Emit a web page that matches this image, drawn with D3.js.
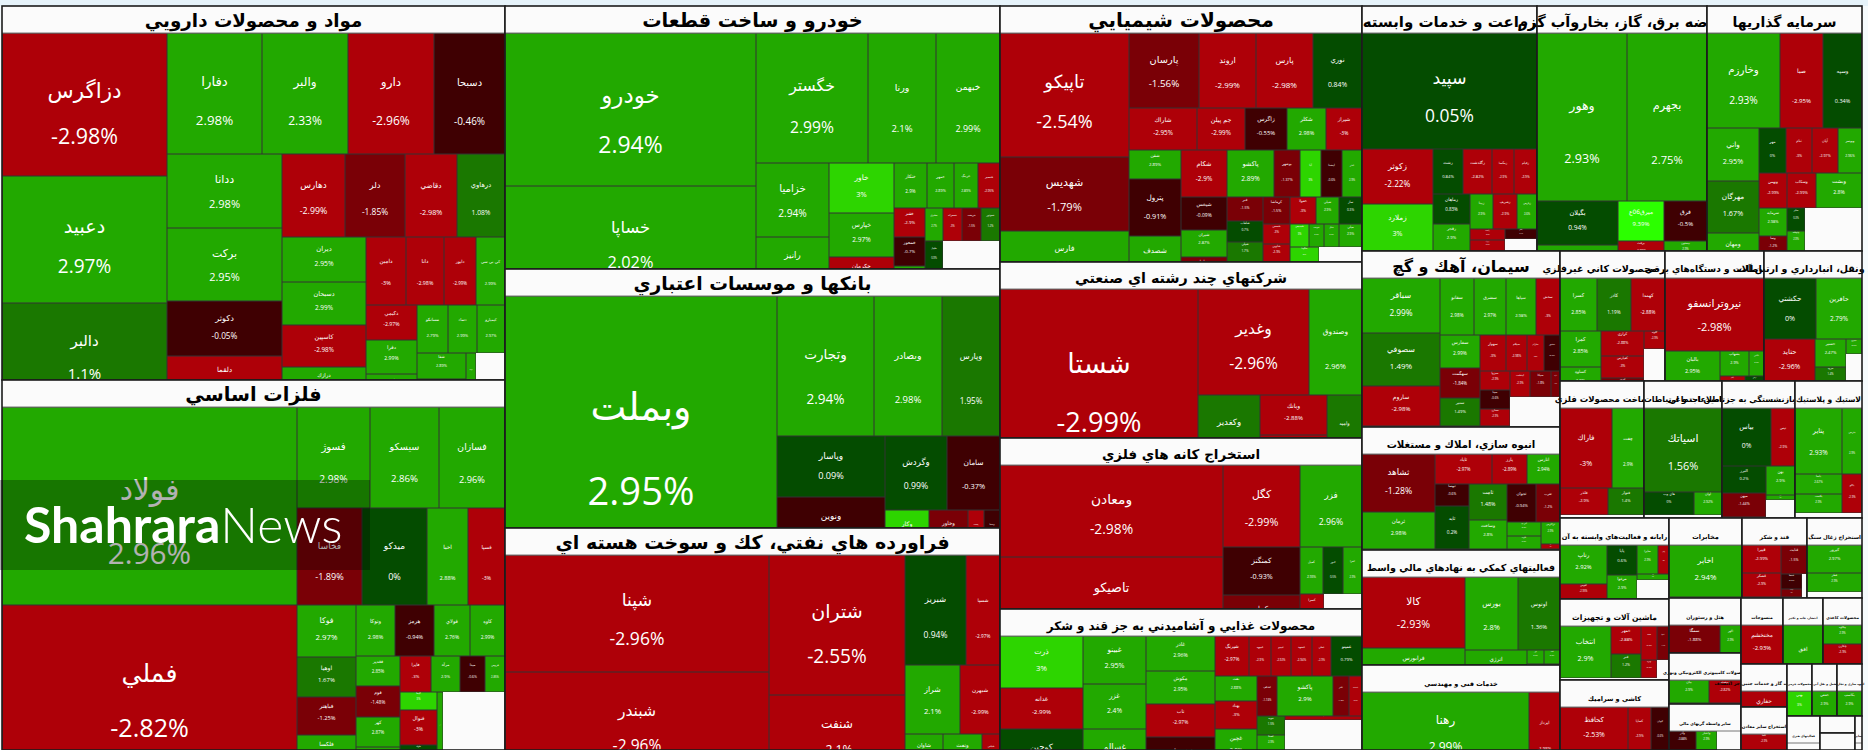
<!DOCTYPE html>
<html>
<head>
<meta charset="utf-8">
<script src="https://cdn.jsdelivr.net/npm/d3@7"></script>
<style>
    html, body { margin: 0; padding: 0; background: #f6fbfd; overflow: hidden; }
    svg { display: block; }
    text { text-anchor: middle; }
</style>
</head>
<body>
<div id="market-map"></div>
<script>
/* ----------------------------------------------------- Data -------------------------------------------------------------------------- */

const sectorNames = [
    "مواد و محصولات دارويي", "فلزات اساسي",
    "خودرو و ساخت قطعات", "بانكها و موسسات اعتباري", "فراورده هاي نفتي، كك و سوخت هسته اي",
    "محصولات شيميايي", "شركتهاي چند رشته اي صنعتي", "استخراج كانه هاي فلزي", "محصولات غذايي و آشاميدني به جز قند و شكر",
    "زراعت و خدمات وابسته", "عرضه برق، گاز، بخاروآب گرم", "سرمايه گذاريها",
    "سيمان، آهك و گچ", "انبوه سازي، املاك و مستغلات", "فعاليتهاي كمكي به نهادهاي مالي واسط", "خدمات فني و مهندسي",
    "ساير محصولات كاني غيرفلزي", "ماشين آلات و دستگاه‌هاي برقي", "حمل ونقل، انبارداري و ارتباطات",
    "ساخت محصولات فلزي", "اطلاعات و ارتباطات", "بيمه وصندوق بازنشستگي به جزتامين اجتماعي", "لاستيك و پلاستيك",
    "رايانه و فعاليت‌هاي وابسته به آن", "ماشين آلات و تجهيزات", "كاشي و سراميك",
    "مخابرات", "قند و شكر", "استخراج زغال سنگ",
    "هتل و رستوران", "محصولات كامپيوتري الكترونيكي ونوري", "ساير واسطه گريهاي مالي",
    "منسوجات", "انتشار، چاپ و تكثير", "محصولات كاغذي",
    "استخراج نفت گاز و خدمات جنبي جز اكتشاف", "استخراج ساير معادن",
    "محصولات چرمي", "حمل و نقل آبي", "انبوه سازي و تجارت",
    "فعاليتهاي هنري", "خرده فروشي", "عمده فروشي", "ساير"
];

const sectorValues = [
    188400, 185900,
    130400, 127700, 110100,
    92700, 63700, 61900, 51000,
    42800, 41600, 37900,
    34800, 24200, 22700, 16800,
    13650, 12850, 12750,
    11530, 10680, 9990, 9160,
    8900, 8800, 7600,
    5880, 5170, 4400,
    4030, 3670, 3380,
    2790, 2660, 2590,
    1950, 1950,
    1300, 1300, 1300,
    1100, 590, 590, 240
];

const titleSizes = [
    18.3, 19.3, 19.3, 18.7, 19, 20, 14.3, 13.5, 11.9, 15, 14.5, 14, 16, 10.2, 9.6, 6.5,
    9.5, 9, 9.5, 8.5, 8, 8, 7.5, 6.6, 7.6, 6.5, 6.5, 5.7, 5.4, 4.9, 4.4, 4,
    4.5, 3, 4, 4.5, 4.4, 3, 3, 3, 3, 3, 3, 3
];

/* A few sectors turn their rows earlier than plain squarify does */
const tileBias = { 5: 1.32, 9: 1.2, 13: 1.32, 17: 1.3 };

const tickerNames = [
    ["دزاگرس", "دعبيد", "دالبر", "دفارا", "والبر", "دارو", "دسبحا", "ددانا", "بركت", "دكوثر", "دلقما",
     "دهارس", "دلر", "دقاضي", "درهاوي", "ديران", "دسبحان", "كاسپين", "درازك", "دامين", "دانا", "دابور", "كي بي سي",
     "دكيمي", "دفرا", "دشيمي", "مسانكو", "دتماد", "كيميارو", "شفا", "دتولي", "تيپيكو", ""],
    ["فولاد", "فملي", "فسوژ", "سيسكو", "فسازان", "فخاسا", "ميدكو", "اخيا", "فسپا",
     "فوكا", "اوهيا", "فباهنر", "فلكسا", "ونوكا", "هرمز", "فولاي", "كاوه", "فغدير", "فوم", "كهر",
     "فجر", "فايرا", "مرآه", "ميدا", "فروس", "كيما", "فنوال", "فلوله", "فسرب", "فزر", ""],
    ["خودرو", "خساپا", "خگستر", "ورنا", "خبهمن", "خزاميا", "رانيز", "خاور", "خپارس", "خكرمان",
     "ختكار", "خمهر", "خرينگ", "خنصير", "خفنر", "خمحور", "خكار", "خشرق", "خمحركه", "خريخت", "خموتور", "خليبل", "خپويش", ""],
    ["وبملت", "وتجارت", "وبصادر", "وپارس", "وپاسار", "ونوين", "وگردش", "سامان", "وكار", "وخاور", "پست", "وسينا"],
    ["شپنا", "شبندر", "شتران", "شنفت", "شبريز", "شسپا", "شراز", "شبهرن", "شاوان", "ونفت", "شپاس"],
    ["تاپيكو", "شهديس", "فارس", "پارسان", "اروند", "پارس", "نوري", "شاراك", "جم پيلن", "زاگرس", "شكلر", "شيراز", "شفن",
     "پترول", "شصدف", "شكام", "شيخس", "شيران", "ساينا", "پاكشو", "بوشهر", "آپا", "ايشدا", "غدر", "فنر",
     "شلعاب", "شپلي", "شفته", "كرماشا", "خفولا", "شيلي", "ساز", "شمس", "شاوين",
     "شفارس", "شپديس", "شوينده", "شگل", "ميلي", "شگويا", "شرنگي", "شغدير", ""],
    ["شستا", "وغدير", "وصندوق", "وكغدير", "وبانك", "وسنا", "واميد"],
    ["ومعادن", "تاصيكو", "كگل", "فزر", "كمنگنز", "كچاد", "كميل", "كنور", "كفرا", "كسرا", "سمن", ""],
    ["ذرت", "غدانه", "كوچين", "غبينو", "غزر", "غسالم", "غاذر", "مكوش", "ناب", "غشهداب",
     "شيرنگ", "غبيوه", "غپينو", "غشهد", "غملي", "غمينو", "نفت", "بهناد", "غچين",
     "غفارس", "اشكف", "پاكشو", "غلبر", "غدشت", "خوبه", "غسنا", "لبني", "غكورش", "قند", ""],
    ["سپيد", "زكوثر", "زملارد", "زشت", "زگلدشت", "زمگسا", "زقيام", "زماهان", "زفجر",
     "زبينا", "زشريف", "زپارس", "زكشت", "زبرك", "زنگان", ""],
    ["وهور", "بجهرم", "بگيلان", "برق", "ميرق06ع", "برفت", "بمپنا", "فرق", "بيستون", ""],
    ["وخارزم", "صبا", "وسپه", "واني", "مهرگان", "ومهان", "مهر", "ثنام", "آپان", "وبوسر",
     "وبهمن", "سرمايه", "وسا", "سپر", "وسكاب", "وبشت", "سابر", "وتوشه", "كي", ""],
    ["سباقر", "سصوفي", "ساروم", "سفانو", "سشرق", "سپاها", "سخش", "سفارس", "سهگمت", "سنير",
     "سهواز", "سيلام", "سارام", "سخوز", "سبزوا", "سينا", "سمازن", "ايدشت", "سيكا", "سآبيك", ""],
    ["ثشاهد", "ثرمان", "ثاباد", "پارز", "انارس", "ثبهسا", "ثابد", "ثامت", "وساخت", "ثجوان", "ثغرب", "آس پ", "ثالوند", "ثزاگرس", "ثاخت"],
    ["كالا", "فرابورس", "بورس", "اوتوس", "انرژي", "نور", "ثبت", ""],
    ["رهنا", "اپرداز"],
    ["كسرا", "كاذر", "كهمدا", "كمرا", "كساوه", "كرازي", "كفپارس", "كپرور", "كلوند", ""],
    ["نيروترانسفو", "بالبان", "بشهاب", "بالاس", "بكام", "برقي"],
    ["حكشتي", "حافرين", "حتايد", "حسير", "حرود", "حپترو", ""],
    ["فاراك", "چفت", "فلذر", "فنوار"],
    ["اسياتك", "هاي وب", "اوان"],
    ["بياس", "تپس", "البرز", "ميهن", "بهن", "سافي", ""],
    ["پتاير", "پدرس", "پاسا", "پلاست", "پاكو"],
    ["رتاپ", "افوس", "پايا", "مرغوا", "سايرا", "پايتن", "سپ", ""],
    ["انتخاب", "خمهر", "فنر", "صند", "اسپا", "وبرد", ""],
    ["كحافظ", "كساپا", "كيوان"],
    ["اخابر"],
    ["قپيرا", "قشكر", "قثابت", "قنيشا", "قهكمت", ""],
    ["كپرور", "قطر"],
    ["سمگا", "اگهر"],
    ["بيان", "سيستم"],
    ["وآذر", "واعتبار", ""],
    ["مختخشم"],
    ["افق"],
    ["چكاوه", "چكارن"],
    ["حفاري"],
    ["كاما"],
    ["بهني"],
    ["خفقي"],
    ["بكاسپ"],
    [], [], [], []
];

const tickerChanges = [
    [-2.98, 2.97, 1.1, 2.98, 2.33, -2.96, -0.46, 2.98, 2.95, -0.05, -2.96,
     -2.99, -1.85, -2.98, 1.08, 2.95, 2.99, -2.98, 2.9, -3, -2.98, -2.99, 2.99,
     -2.97, 2.99, 2.9, 2.79, 2.99, 2.97, 2.89, 2.9, 2.9, null],
    [2.96, -2.82, 2.98, 2.86, 2.96, -1.89, 0, 2.88, -3,
     2.97, 1.67, -1.25, 2.9, 2.98, -0.94, 2.76, 2.99, 2.85, -1.48, 2.87,
     2.9, -3, 2.9, -0.6, 2.85, 3, -3, 0, -1.2, 2.5, null],
    [2.94, 2.02, 2.99, 2.1, 2.99, 2.94, 2.9, 3, 2.97, -2.9,
     2.9, 2.89, 2.89, -2.95, -2.9, -0.7, 2.9, 2.7, -3, -1.5, 1.2, 0.9, 0.8, null],
    [2.95, 2.94, 2.98, 1.95, 0.09, -0.5, 0.99, -0.37, 3, -1.9, -2.9, -0.5],
    [-2.96, -2.96, -2.55, -2.1, 0.94, -2.97, 2.1, -2.99, 2.9, 2.9, -2.9],
    [-2.54, -1.79, 2.9, -1.56, -2.99, -2.98, 0.84, -2.95, -2.99, -0.55, 2.98, -3, 2.89,
     -0.91, 2.98, -2.9, -0.09, 2.87, -1.28, 2.89, -1.37, 3, -0.6, 2.9, -1.5,
     0.7, 1.7, -1.28, -1.5, -3, 2.9, 0.3, -3, -2.9,
     2.98, 3, 2.9, 2.9, 2.9, 3, -1.9, 2.9, null],
    [-2.99, -2.96, 2.96, 1.5, -2.88, -2.7, 1.71],
    [-2.98, -2.98, -2.99, 2.96, -0.93, -1.5, 2.93, 0.5, 2.9, -2.98, -2.9, null],
    [3, -2.99, 0.6, 2.95, 2.4, 2.9, 2.96, 2.95, -2.97, -0.8,
     -2.97, -2.9, -2.92, -2.94, -2.9, 0.79, 2.88, -3, 2.9,
     -1.99, -1.74, 2.9, -1.8, -2.9, 1.5, 2.9, 2.9, -2.9, -2.9, null],
    [0.05, -2.22, 3, 0.84, -2.82, -2.9, -2.9, 0.83, 2.9,
     2.9, -2.9, 2.6, -2.9, -2.9, -0.4, null],
    [2.93, 2.75, 0.94, 2.9, 9.39, -2.98, 2.9, -0.5, 2.9, null],
    [2.93, -2.95, 0.34, 2.95, 1.67, 2.9, 0, -3, -2.97, 2.96,
     -2.99, 2.98, -1.2, -3, -2.99, 2.8, 0.3, 2.9, 1.4, null],
    [2.99, 1.49, -2.98, 2.98, 2.97, 2.98, -3, 2.99, -1.84, 1.49,
     -3, -2.98, -3, -0.7, -2.9, -0.6, -2.9, -2.9, -1.8, -1.5, null],
    [-1.28, 2.98, -2.97, -2.89, 2.94, -0.6, 0.2, 1.48, 2.8, -0.94, -1.2, 2.9, 2.5, 2.9, -2.9],
    [-2.93, 2.9, 2.8, 1.36, 2.9, 2.9, 2.9, null],
    [2.99, -2.98],
    [2.85, 1.19, -2.88, 2.85, 2.9, -2.88, -3, -1.4, -2.9, null],
    [-2.98, 2.95, 2.9, 2.9, -2.9, 0.5],
    [0, 2.79, -2.96, 2.47, 1.4, 2.9, null],
    [-3, 2.9, -2.9, 1.4],
    [1.56, 0, 2.92],
    [0, -2.9, 0.2, -1.44, 2.9, 2.9, null],
    [2.93, 2.9, 2.67, 2.9, -2.9],
    [2.92, -2.95, 0.6, 2.9, 2.9, -3, 2.9, null],
    [2.9, -2.88, 1.2, -2.9, -1.4, -2.9, null],
    [-2.53, -2.9, -0.6],
    [2.94],
    [-2.99, -2.9, -1.5, -0.6, -2, null],
    [2.97, 2.9],
    [-1.88, 2.9],
    [2.9, -2.82],
    [-0.88, 2.9, null],
    [-2.93],
    [2.9],
    [2.9, -2.9],
    [-2.9],
    [-2.9],
    [3],
    [2.9],
    [2.9],
    [], [], [], []
];

const tickerValues = [
    [23600, 20955, 16500, 11500, 10400, 10400, 8600, 8500, 8400, 6400, 5400,
     5150, 5000, 4300, 3950, 3800, 3550, 3500, 3000, 2800, 2550, 2200, 2000,
     1800, 1750, 1500, 1480, 1390, 1340, 1250, 1200, 480, 1465],
    [58400, 49600, 7370, 6970, 6670, 6300, 6200, 3980, 3590,
     3070, 2360, 2240, 2240, 2030, 1980, 1870, 1820, 1330, 1380, 1330,
     1150, 1100, 1025, 900, 700, 665, 1260, 520, 500, 500, 5060],
    [38250, 27500, 14560, 8840, 8320, 5400, 4300, 3250, 2860, 2535,
     1520, 1200, 1100, 1010, 910, 910, 910, 600, 620, 640, 620, 560, 400, 3085],
    [70700, 13440, 9520, 8120, 6590, 6370, 4590, 3920, 2020, 1750, 740, 740],
    [30770, 27600, 19040, 11150, 6710, 3740, 3800, 2760, 1630, 1630, 770],
    [16000, 9680, 6970, 5175, 4275, 4200, 3675, 2900, 2050, 1800, 1650, 1550, 1500,
     2890, 2540, 2120, 1520, 1270, 1270, 2200, 1200, 1000, 960, 920, 880,
     770, 780, 800, 730, 700, 600, 630, 560, 530,
     560, 460, 360, 340, 560, 460, 330, 310, 1625],
    [35700, 11770, 5600, 4650, 2680, 2345, 2625],
    [20420, 18870, 6314, 5084, 3700, 3620, 1080, 940, 890, 770, 410, 1800],
    [4320, 3400, 4730, 3020, 2835, 3590, 2380, 2240, 2240, 3330,
     1376, 864, 800, 832, 736, 1250, 1075, 1160, 1585,
     790, 825, 2280, 650, 510, 540, 510, 480, 450, 320, 5017],
    [20300, 3960, 3380, 1340, 1290, 1010, 1010, 1100, 1000,
     815, 850, 700, 400, 400, 330, 405],
    [15040, 13520, 3600, 2640, 1850, 1000, 700, 1710, 830, 760],
    [7000, 4030, 3750, 2760, 2700, 2080, 1215, 1170, 1170, 1080,
     980, 780, 620, 420, 1000, 1590, 420, 375, 375, 3654],
    [4290, 4210, 3120, 1910, 1860, 1680, 1390, 1280, 1200, 1120,
     940, 720, 610, 580, 590, 560, 530, 500, 550, 240, 1473],
    [4250, 2660, 1690, 1050, 970, 760, 1490, 1390, 1107, 1107, 900, 500, 430, 420, 100],
    [7310, 4120, 3800, 3070, 2320, 240, 220, 790],
    [13280, 2480],
    [1950, 1840, 1780, 1470, 1150, 1070, 950, 750, 370, 950],
    [7230, 2000, 700, 375, 290, 230],
    [3160, 2850, 2340, 860, 540, 240, 500],
    [4180, 2540, 1270, 970],
    [6550, 1180, 650],
    [2830, 1420, 1160, 1075, 820, 160, 490],
    [3080, 1320, 950, 900, 780],
    [1810, 785, 900, 780, 615, 320, 200, 640],
    [2650, 810, 700, 555, 400, 290, 210],
    [3150, 1030, 850],
    [3820],
    [1100, 920, 750, 330, 170, 120],
    [1550, 1050],
    [1500, 600],
    [940, 750],
    [520, 400, 450],
    [1680],
    [2720],
    [760, 760],
    [1800],
    [765],
    [676],
    [650],
    [650],
    [], [], [], []
];

/* ----------------------------------------------------- Layout constants ------------------------------------------------------------ */

const width = 1868;
const height = 750;
const margin = { top: 6, right: 6, bottom: 0, left: 2 };
const headerHeight = 27;
const goldenRatio = (1 + Math.sqrt(5)) / 2;

const changeColor = d3.scaleThreshold()
    .domain([-2, -1, 0, 1, 2, 3, 4])
    .range(["#ae0008", "#7a0006", "#3f0002", "#044c00", "#1a7800", "#22a900", "#2dd500", "#2cff00"]);

/* Same steps as d3.treemapSquarify, only the row/column test takes a bias */
function biasedSquarify(bias) {
    return function (parent, x0, y0, x1, y1) {
        const nodes = parent.children;
        const n = nodes.length;
        let i0 = 0, i1 = 0, value = parent.value;

        while (i0 < n) {
            const dx = x1 - x0;
            const dy = y1 - y0;
            let sumValue = nodes[i1++].value;
            let minValue = sumValue;
            let maxValue = sumValue;
            const alpha = Math.max(dy / dx, dx / dy) / (value * goldenRatio);
            let beta = sumValue * sumValue * alpha;
            let minRatio = Math.max(maxValue / beta, beta / minValue);

            for (; i1 < n; ++i1) {
                const nodeValue = nodes[i1].value;
                sumValue += nodeValue;
                if (nodeValue < minValue) minValue = nodeValue;
                if (nodeValue > maxValue) maxValue = nodeValue;
                beta = sumValue * sumValue * alpha;
                const newRatio = Math.max(maxValue / beta, beta / minValue);
                if (newRatio > minRatio) {
                    sumValue -= nodeValue;
                    break;
                }
                minRatio = newRatio;
            }

            const row = { value: sumValue, children: nodes.slice(i0, i1) };
            if (dx < dy * bias) {
                d3.treemapDice(row, x0, y0, x1, y0 += dy * sumValue / value);
            } else {
                d3.treemapSlice(row, x0, y0, x0 += dx * sumValue / value, y1);
            }
            value -= sumValue;
            i0 = i1;
        }
    };
}

/* ----------------------------------------------------- Treemap ---------------------------------------------------------------------- */

const svg = d3.select("#market-map").append("svg")
    .attr("width", width)
    .attr("height", height);

svg.append("rect")
    .attr("width", width)
    .attr("height", margin.top)
    .attr("fill", "#e6f3fa");

const sectorRoot = d3.hierarchy({
    children: sectorNames.map((name, i) => ({ name: name, value: sectorValues[i], index: i }))
}).sum(d => d.children ? 0 : d.value);

d3.treemap()
    .tile(d3.treemapSquarify)
    .size([width - margin.left - margin.right, height - margin.top - margin.bottom])
    .round(true)(sectorRoot);

const chart = svg.append("g")
    .attr("transform", `translate(${margin.left}, ${margin.top})`);

sectorRoot.leaves().forEach(function (sector) {
    const index = sector.data.index;
    const sectorWidth = sector.x1 - sector.x0;
    const sectorHeight = sector.y1 - sector.y0;
    const bodyHeight = sectorHeight - headerHeight;

    const group = chart.append("g")
        .attr("transform", `translate(${sector.x0}, ${sector.y0})`);

    group.append("rect")
        .attr("width", sectorWidth)
        .attr("height", sectorHeight)
        .attr("fill", "#fbfbfb");

    group.append("text")
        .attr("x", sectorWidth / 2)
        .attr("y", headerHeight - 6)
        .attr("direction", "rtl")
        .style("font-family", "'DejaVu Sans', sans-serif")
        .style("font-weight", "bold")
        .style("font-size", titleSizes[index] + "px")
        .attr("fill", "#000")
        .text(sector.data.name);

    /* The cell layout is usually taller than the visible box, the rest is cut off */
    const body = group.append("svg")
        .attr("y", headerHeight)
        .attr("width", sectorWidth)
        .attr("height", bodyHeight);

    const names = tickerNames[index];
    const total = d3.sum(tickerValues[index]);

    if (names.length > 0) {
        const cellRoot = d3.hierarchy({
            children: names.map((name, i) => ({
                name: name,
                change: tickerChanges[index][i],
                value: tickerValues[index][i]
            }))
        }).sum(d => d.children ? 0 : d.value);

        d3.treemap()
            .tile(biasedSquarify(tileBias[index] || 1))
            .size([sectorWidth, total / sectorWidth])
            .round(true)(cellRoot);

        const cells = body.selectAll("svg")
            .data(cellRoot.leaves().filter(d => d.data.change !== null))
            .enter()
            .append("svg")
            .attr("x", d => d.x0)
            .attr("y", d => d.y0)
            .attr("width", d => d.x1 - d.x0)
            .attr("height", d => d.y1 - d.y0);

        cells.append("rect")
            .attr("width", d => d.x1 - d.x0)
            .attr("height", d => d.y1 - d.y0)
            .attr("fill", d => changeColor(d.data.change))
            .attr("stroke", "#333")
            .attr("stroke-width", 1);

        const fontSize = d => Math.min(0.15 * (d.y1 - d.y0), 0.14 * (d.x1 - d.x0));
        const nameY = d => Math.max(fontSize(d) * 0.6, (d.y1 - d.y0) / 2 - 8 - 0.3 * fontSize(d));

        cells.append("text")
            .attr("x", d => (d.x1 - d.x0) / 2)
            .attr("y", nameY)
            .attr("dominant-baseline", "central")
            .attr("direction", "rtl")
            .style("font-family", "'DejaVu Sans', sans-serif")
            .style("font-size", d => fontSize(d) + "px")
            .attr("fill", "#fff")
            .text(d => d.data.name);

        cells.append("text")
            .attr("x", d => (d.x1 - d.x0) / 2)
            .attr("y", d => nameY(d) + 0.32 * (d.y1 - d.y0))
            .attr("dominant-baseline", "central")
            .style("font-family", "'Open Sans', sans-serif")
            .style("font-size", d => fontSize(d) + "px")
            .attr("fill", "#fff")
            .text(d => d.data.change + "%");
    }

    group.append("line")
        .attr("x1", 0)
        .attr("x2", sectorWidth)
        .attr("y1", headerHeight)
        .attr("y2", headerHeight)
        .attr("stroke", "#777")
        .attr("stroke-width", 1);

    group.append("rect")
        .attr("width", sectorWidth)
        .attr("height", sectorHeight)
        .attr("fill", "none")
        .attr("stroke", "#1c1c1c")
        .attr("stroke-width", 1.6);
});

/* ----------------------------------------------------- Watermark -------------------------------------------------------------------- */

const watermark = svg.append("g");

watermark.append("rect")
    .attr("y", 480)
    .attr("width", 370)
    .attr("height", 90)
    .attr("fill", "rgba(0, 0, 0, 0.3)");

const logo = watermark.append("text")
    .attr("x", 24)
    .attr("y", 543)
    .style("text-anchor", "start")
    .style("font-family", "Lato, sans-serif")
    .style("font-size", "50px")
    .attr("fill", "#fff");

logo.append("tspan").style("font-weight", "700").text("Shahrara");
logo.append("tspan").style("font-weight", "300").text("News");
</script>
</body>
</html>
